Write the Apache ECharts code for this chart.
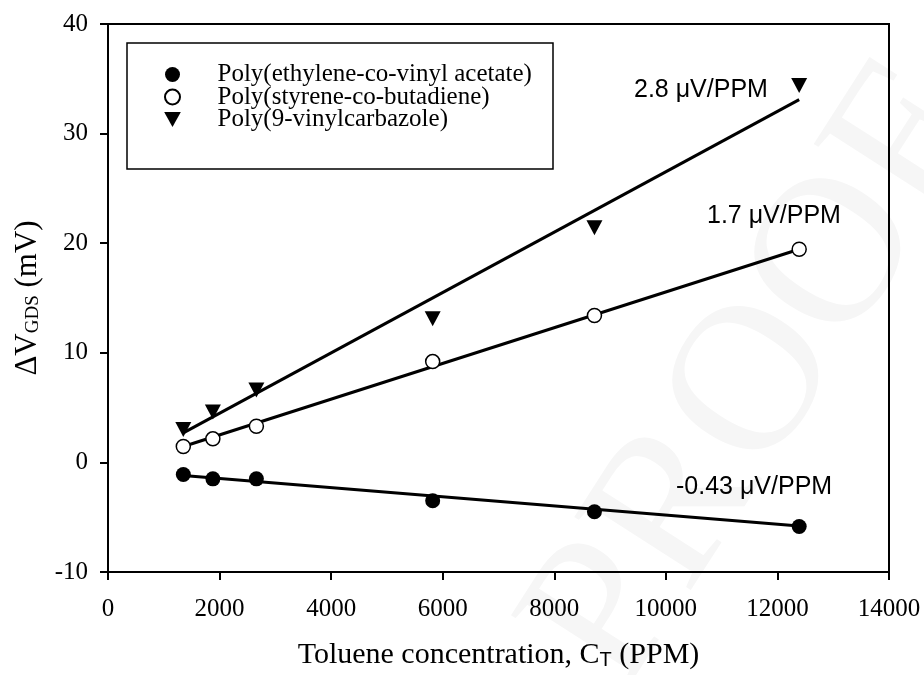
<!DOCTYPE html>
<html>
<head>
<meta charset="utf-8">
<script src="https://cdn.jsdelivr.net/npm/echarts@6/dist/echarts.min.js"></script>
<style>
  html, body { margin: 0; padding: 0; background: #fff; }
  #chart { width: 924px; height: 675px; }
</style>
</head>
<body>
<div id="chart"></div>
<script>
// toluene concentration (PPM)
var conc = [1350, 1880, 2660, 5820, 8720, 12390];
// delta V_GDS (mV)
var evaValues = [-1.1, -1.5, -1.5, -3.5, -4.5, -5.85];
var sbrValues = [1.45, 2.15, 3.3, 9.2, 13.4, 19.45];
var pvkValues = [3.0, 4.6, 6.6, 13.1, 21.4, 34.4];
// fitted lines, end points
var fitX = [1350, 12390];
var evaFit = [-1.2, -5.8];
var sbrFit = [1.45, 19.45];
var pvkFit = [2.7, 33.1];

var names = [
    'Poly(ethylene-co-vinyl acetate)',
    'Poly(styrene-co-butadiene)',
    'Poly(9-vinylcarbazole)'
];
var slopes = ['-0.43 \u03bcV/PPM', '1.7 \u03bcV/PPM', '2.8 \u03bcV/PPM'];

var downTri = 'path://M0,0 L10,0 L5,9 Z';
var serif = '"Liberation Serif", "Times New Roman", serif';
var sans = '"Liberation Sans", Arial, sans-serif';

function pairs(xs, ys){
    return xs.map(function(x, i){ return [x, ys[i]]; });
}

function fitLine(ys){
    return {
        type: 'line',
        data: pairs(fitX, ys),
        showSymbol: false,
        symbol: 'none',
        lineStyle: { color: '#000', width: 3 },
        z: 2,
        silent: true
    };
}

function note(text, x, y){
    return {
        type: 'text', z: 50, x: x, y: y,
        style: {
            text: text, fontFamily: sans, fontSize: 25, fill: '#000',
            textVerticalAlign: 'middle'
        }
    };
}

var chart = echarts.init(document.getElementById('chart'));

chart.setOption({
    animation: false,
    backgroundColor: '#fff',
    grid: {
        left: 108, right: 35, top: 24, bottom: 102,
        show: true, borderColor: '#000', borderWidth: 2
    },
    legend: {
        data: names,
        orient: 'vertical',
        left: 164,
        top: 62,
        padding: 0,
        itemGap: -2.5,
        itemWidth: 80,
        itemHeight: 15,
        textStyle: { fontFamily: serif, fontSize: 25, color: '#000', lineHeight: 22 }
    },
    xAxis: {
        type: 'value',
        min: 0, max: 14000, interval: 2000,
        name: 'Toluene concentration, C{sub|T} (PPM)',
        nameLocation: 'middle',
        nameGap: 68,
        nameTextStyle: {
            fontFamily: serif, fontSize: 30, color: '#000',
            rich: { sub: { fontFamily: sans, fontSize: 20, padding: [10, 0, 0, 0] } }
        },
        axisLine: { onZero: false, lineStyle: { color: '#000', width: 2 } },
        axisTick: { inside: false, length: 8, lineStyle: { color: '#000', width: 2 } },
        axisLabel: {
            margin: 25, fontFamily: serif, fontSize: 25, color: '#000',
            formatter: function(v){ return String(v); }
        },
        splitLine: { show: false }
    },
    yAxis: {
        type: 'value',
        min: -10, max: 40, interval: 10,
        name: '\u0394V{sub|GDS} (mV)',
        nameLocation: 'middle',
        nameGap: 64,
        nameTextStyle: {
            fontFamily: serif, fontSize: 31, color: '#000',
            rich: { sub: { fontFamily: serif, fontSize: 19, padding: [10, 0, 0, 0] } }
        },
        axisLine: { onZero: false, lineStyle: { color: '#000', width: 2 } },
        axisTick: { inside: false, length: 8, lineStyle: { color: '#000', width: 2 } },
        axisLabel: {
            margin: 20, fontFamily: serif, fontSize: 25, color: '#000',
            formatter: function(v){ return String(v); }
        },
        splitLine: { show: false }
    },
    graphic: [
        {
            type: 'text', z: -10, silent: true,
            x: 760, y: 380, rotation: 1.0,
            style: {
                text: 'PROOF', fontFamily: serif, fontSize: 210,
                fill: '#f6f6f6', textAlign: 'center', textVerticalAlign: 'middle'
            }
        },
        {
            type: 'rect', z: 50, silent: true,
            shape: { x: 127, y: 43, width: 426, height: 126 },
            style: { fill: null, stroke: '#000', lineWidth: 1.5 }
        },
        note(slopes[2], 634, 90),
        note(slopes[1], 707, 216),
        note(slopes[0], 676, 487)
    ],
    series: [
        fitLine(evaFit),
        fitLine(sbrFit),
        fitLine(pvkFit),
        {
            name: names[0],
            type: 'scatter',
            data: pairs(conc, evaValues),
            symbol: 'circle',
            symbolSize: 15,
            itemStyle: { color: '#000', opacity: 1 },
            z: 5
        },
        {
            name: names[1],
            type: 'scatter',
            data: pairs(conc, sbrValues),
            symbol: 'circle',
            symbolSize: 14,
            itemStyle: { color: '#fff', borderColor: '#000', borderWidth: 1.5, opacity: 1 },
            z: 5
        },
        {
            name: names[2],
            type: 'scatter',
            data: pairs(conc, pvkValues),
            symbol: downTri,
            symbolSize: [16, 15],
            itemStyle: { color: '#000', opacity: 1 },
            z: 5
        }
    ]
});
</script>
</body>
</html>
